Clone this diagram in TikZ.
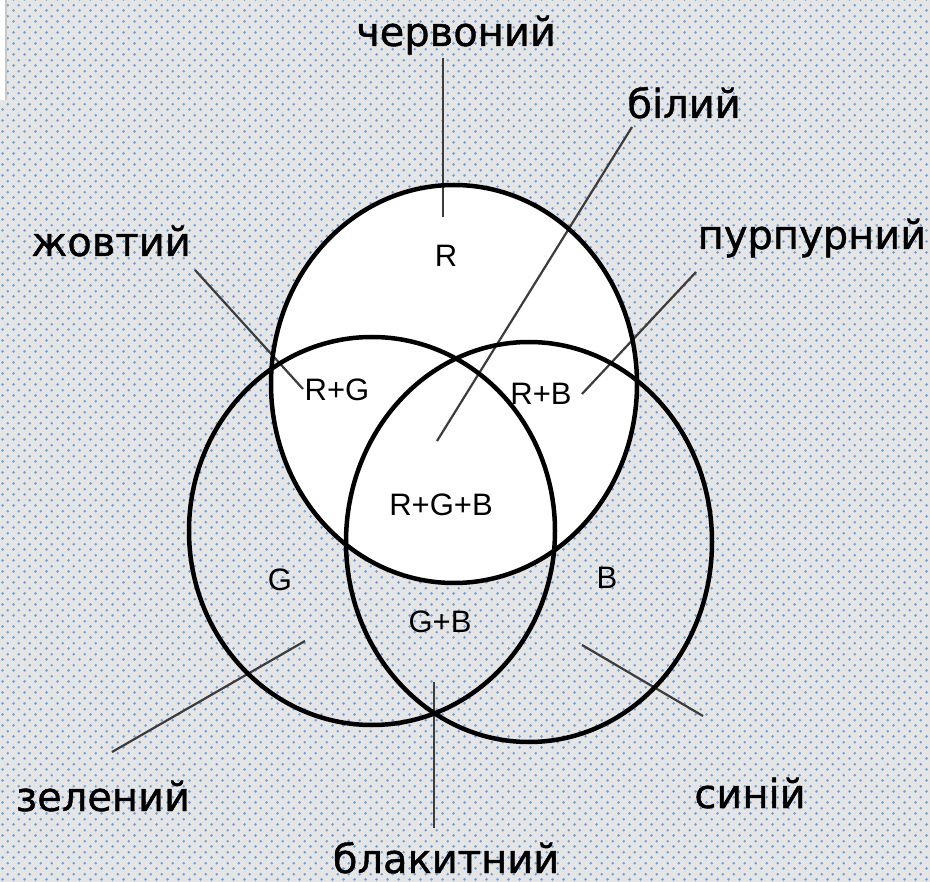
\documentclass[tikz,border=0pt]{standalone}
\usepackage{fontspec}
\setmainfont{Liberation Sans}
\newfontfamily\lblfont[FakeBold=1]{DejaVu Sans}
\usetikzlibrary{patterns.meta}
\definecolor{bggray}{RGB}{229,229,229}
\definecolor{dotblue}{RGB}{105,160,222}
\definecolor{leader}{RGB}{60,60,60}
\definecolor{edgegray}{RGB}{200,200,200}
\tikzdeclarepattern{
  name=bgdots,
  type=colored,
  bottom left={(0pt,0pt)},
  top right={(10.66pt,10.66pt)},
  tile size={(10.66pt,10.66pt)},
  code={
    \fill[dotblue] (2.66pt,2.66pt) circle (1.5pt);
    \fill[dotblue] (7.99pt,7.99pt) circle (1.5pt);
  }
}
\begin{document}
\begin{tikzpicture}[x=1pt,y=-1pt,
  ring/.style={line width=4.5pt, black},
  leaderline/.style={line width=2.2pt, leader},
  outerlbl/.style={font=\lblfont\fontsize{40}{40}\selectfont, inner sep=0pt, anchor=base},
  innerlbl/.style={font=\fontsize{31}{31}\selectfont, inner sep=0pt, anchor=center}]
\useasboundingbox (0,0) rectangle (930,882);
% background
\fill[bggray] (0,0) rectangle (930,882);
\fill[pattern=bgdots] (0,0) rectangle (930,882);
\fill[white] (0,0) rectangle (5,100);
\fill[edgegray] (5,0) rectangle (7,100);
% centres
\coordinate (cR) at (454,384);
\coordinate (cG) at (372,531);
\coordinate (cB) at (529,542);
% white red circle
\fill[white] (cR) ellipse [x radius=183pt, y radius=199pt];
% labels
\node[outerlbl] (lred)    at (456,46)  {червоний};
\node[outerlbl] (lwhite)  at (684,118) {білий};
\node[outerlbl] (lyellow) at (111,256) {жовтий};
\node[outerlbl] (lpurple) at (812,249) {пурпурний};
\node[outerlbl] (lgreen)  at (103,811) {зелений};
\node[outerlbl] (lblue)   at (750,808) {синій};
\node[outerlbl] (lcyan)   at (446,873) {блакитний};
% leader end points
\coordinate (red1) at (443,58);    \coordinate (red2) at (443,217);
\coordinate (wh1) at (632,127);    \coordinate (wh2) at (437,441);
\coordinate (ye1) at (195,270);    \coordinate (ye2) at (303,389);
\coordinate (pu1) at (696,272);    \coordinate (pu2) at (582,394);
\coordinate (gr1) at (112,752);    \coordinate (gr2) at (305,641);
\coordinate (bl1) at (703,716);    \coordinate (bl2) at (582,645);
\coordinate (cy1) at (434,828);    \coordinate (cy2) at (434,682);
\draw[leaderline] (red1) -- (red2);
\draw[leaderline] (wh1) -- (wh2);
\draw[leaderline] (ye1) -- (ye2);
\draw[leaderline] (pu1) -- (pu2);
\draw[leaderline] (gr1) -- (gr2);
\draw[leaderline] (bl1) -- (bl2);
\draw[leaderline] (cy1) -- (cy2);
% circles
\draw[ring] (cR) ellipse [x radius=183pt, y radius=199pt];
\draw[ring] (cG) ellipse [x radius=183pt, y radius=194pt];
\draw[ring] (cB) ellipse [x radius=183pt, y radius=200pt];
% inner labels
\node[innerlbl] (tR)   at (446,256) {R};
\node[innerlbl] (tRG)  at (337,390) {R+G};
\node[innerlbl] (tRB)  at (541,394) {R+B};
\node[innerlbl] (tRGB) at (441,505) {R+G+B};
\node[innerlbl] (tG)   at (280,580) {G};
\node[innerlbl] (tGB)  at (440,622) {G+B};
\node[innerlbl] (tB)   at (607,578) {B};
\end{tikzpicture}
\end{document}
